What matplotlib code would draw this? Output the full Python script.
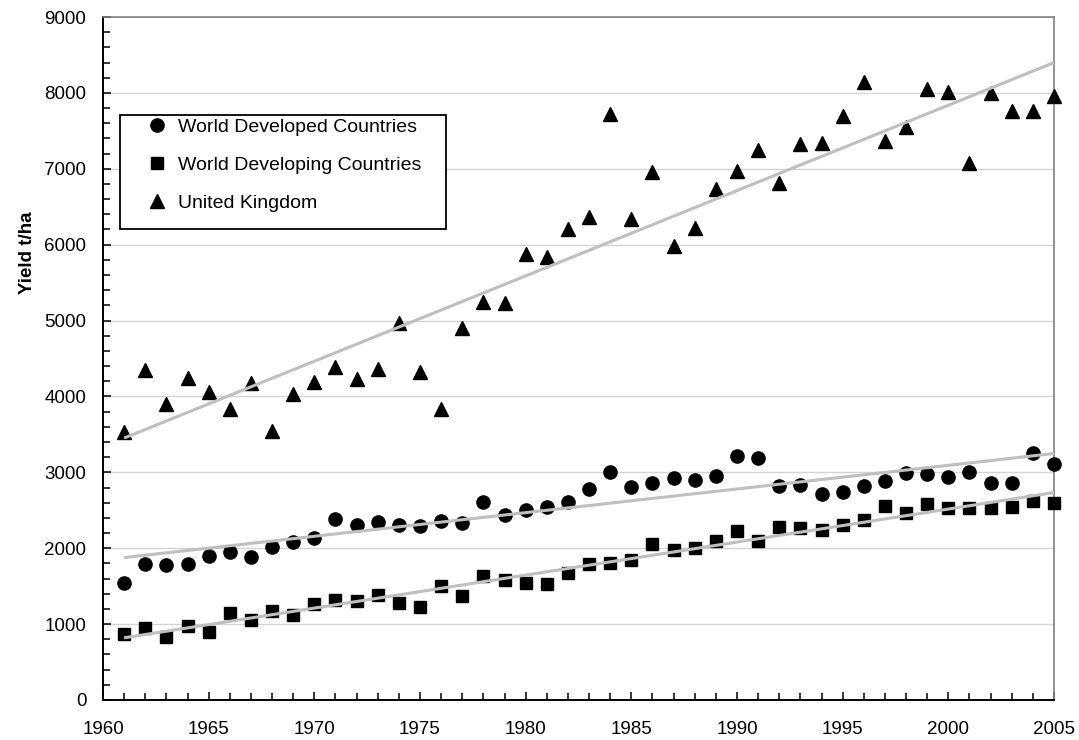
import numpy as np
import matplotlib
matplotlib.use("Agg")
import matplotlib.pyplot as plt
from matplotlib.patches import Rectangle
from matplotlib.ticker import MultipleLocator

plt.rcParams['font.family'] = ['Liberation Sans', 'DejaVu Sans']

years = list(range(1961, 2006))

developed = [1546, 1792, 1779, 1792, 1897, 1946, 1889, 2012, 2077, 2130,
             2385, 2306, 2341, 2301, 2293, 2363, 2328, 2604, 2438, 2504,
             2547, 2608, 2776, 3009, 2811, 2855, 2930, 2899, 2952, 3215,
             3184, 2824, 2833, 2710, 2745, 2824, 2890, 2995, 2974, 2943,
             2999, 2855, 2855, 3251, 3105]

developing = [870, 944, 826, 979, 900, 1151, 1054, 1177, 1120, 1261,
              1318, 1309, 1384, 1283, 1230, 1506, 1370, 1638, 1581, 1537,
              1524, 1673, 1788, 1801, 1845, 2051, 1977, 2007, 2095, 2227,
              2095, 2284, 2270, 2240, 2306, 2372, 2556, 2460, 2578, 2534,
              2525, 2534, 2547, 2622, 2600]

uk = [3535, 4348, 3900, 4238, 4054, 3834, 4181, 3545, 4032, 4195,
      4383, 4230, 4357, 4972, 4326, 3834, 4897, 5249, 5227, 5877,
      5842, 6202, 6369, 7718, 6334, 6962, 5982, 6215, 6733, 6971,
      7247, 6817, 7326, 7344, 7695, 8147, 7370, 7546, 8046, 8007,
      7071, 8003, 7765, 7765, 7959]

labels = ['World Developed Countries', 'World Developing Countries', 'United Kingdom']
x_ticks = [1960, 1965, 1970, 1975, 1980, 1985, 1990, 1995, 2000, 2005]
y_ticks = [0, 1000, 2000, 3000, 4000, 5000, 6000, 7000, 8000, 9000]

W, H = 1079, 740
fig = plt.figure(figsize=(W / 100, H / 100), dpi=100)
ax = fig.add_axes([103 / W, 40 / H, (1054 - 103) / W, (700 - 17) / H])

yrs = np.array(years, dtype=float)
series = [(developed, 'o', 9.5), (developing, 's', 8.5), (uk, '^', 10)]
handles = []
for (vals, m, ms), lab in zip(series, labels):
    h, = ax.plot(yrs, vals, linestyle='none', marker=m, markersize=ms,
                 color='black', markeredgecolor='black', clip_on=False,
                 zorder=3, label=lab)
    handles.append(h)
    coef = np.polyfit(yrs, np.array(vals, dtype=float), 1)
    xf = np.array([years[0], years[-1]], dtype=float)
    ax.plot(xf, np.polyval(coef, xf), color='#BFBFBF', linewidth=2.2,
            zorder=4, solid_capstyle='butt')

ax.set_xlim(1960, 2005)
ax.set_ylim(0, 9000)
ax.set_xticks(x_ticks)
ax.set_yticks(y_ticks)
ax.xaxis.set_minor_locator(MultipleLocator(1))
ax.yaxis.set_minor_locator(MultipleLocator(200))
ax.tick_params(axis='both', which='major', direction='in', length=6,
               width=1.1, labelsize=13.5, color='black')
ax.tick_params(axis='both', which='minor', direction='in', length=5,
               width=1.1, color='black')
ax.tick_params(axis='y', which='major', pad=12)
ax.tick_params(axis='x', which='major', pad=15)
ax.tick_params(top=False, right=False, which='both')

ax.yaxis.grid(True, which='major', color='#D4D4D4', linewidth=1.0, zorder=0)
ax.set_axisbelow(True)

for s in ['left', 'bottom']:
    ax.spines[s].set_color('black')
    ax.spines[s].set_linewidth(1.4)
for s in ['top', 'right']:
    ax.spines[s].set_color('#808080')
    ax.spines[s].set_linewidth(1.2)

ax.set_ylabel('Yield t/ha', fontsize=13.5, fontweight='bold')
ax.yaxis.set_label_coords(-(103 - 36) / 951, (700 - 253) / 683)

# legend frame
x0 = (120 - 103) / 951
y0 = (700 - 229) / 683
ax.add_patch(Rectangle((x0, y0), 326 / 951, (229 - 115) / 683,
                       transform=ax.transAxes, facecolor='white',
                       edgecolor='black', linewidth=1.3, zorder=5))
leg = ax.legend(handles=handles, loc='upper left', frameon=False,
                bbox_to_anchor=((147 - 103) / 951, (700 - 118) / 683),
                borderaxespad=0, borderpad=0, handlelength=1.0,
                handletextpad=0.6, labelspacing=1.06, fontsize=14,
                numpoints=1)
leg.set_zorder(6)

fig.savefig('out.png', dpi=100)
